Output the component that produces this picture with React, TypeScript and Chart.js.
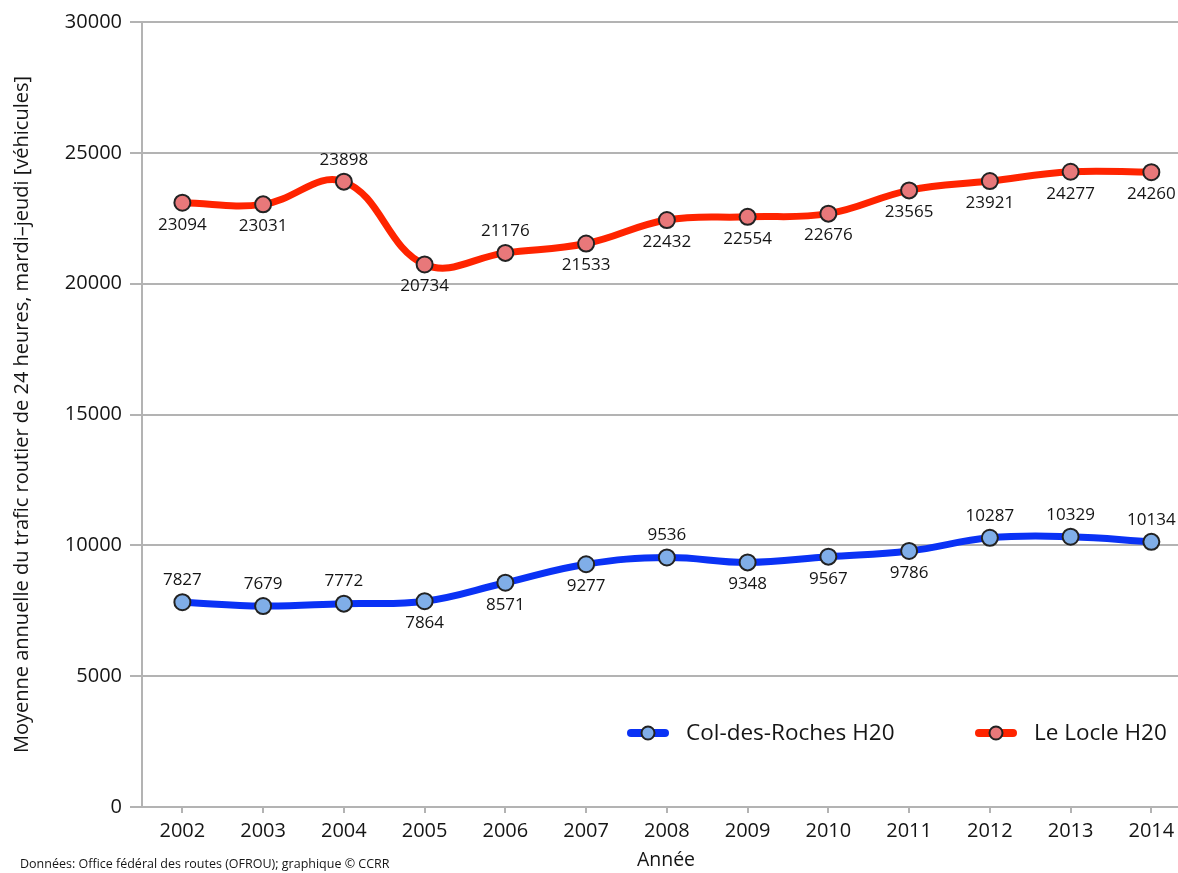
import { useEffect, useRef } from "react";
import { Chart, registerables } from "chart.js";

Chart.register(...registerables);

const years = [2002, 2003, 2004, 2005, 2006, 2007, 2008, 2009, 2010, 2011, 2012, 2013, 2014];
const leLocle = [23094, 23031, 23898, 20734, 21176, 21533, 22432, 22554, 22676, 23565, 23921, 24277, 24260];
const colDesRoches = [7827, 7679, 7772, 7864, 8571, 9277, 9536, 9348, 9567, 9786, 10287, 10329, 10134];
const leLocleLabelSide = ["below", "below", "above", "below", "above", "below", "below", "below", "below", "below", "below", "below", "below"];
const colLabelSide = ["above", "above", "above", "below", "below", "below", "above", "below", "below", "below", "above", "above", "above"];
const yTickValues = [0, 5000, 10000, 15000, 20000, 25000, 30000];

const seriesNames = ["Col-des-Roches H20", "Le Locle H20"];
const FONT = "'Open Sans', Lato, sans-serif";

const RED = "#ff2400";
const BLUE = "#0a32f5";
const RED_FILL = "#e8787a";
const BLUE_FILL = "#80aee8";
const GRID = "#b3b3b3";

const sides = [colLabelSide, leLocleLabelSide];

const labelPlugin = {
  id: "valueLabels",
  afterDatasetsDraw(chart: any) {
    const ctx = chart.ctx;
    ctx.save();
    ctx.font = `17px ${FONT}`;
    ctx.fillStyle = "#151515";
    ctx.textAlign = "center";
    ctx.textBaseline = "middle";
    chart.data.datasets.forEach((ds: any, di: number) => {
      const meta = chart.getDatasetMeta(di);
      meta.data.forEach((el: any, i: number) => {
        const v = ds.data[i].y;
        const off = sides[di][i] === "above" ? -22 : 22;
        ctx.fillText(String(v), el.x, el.y + off);
      });
    });
    ctx.restore();
  },
};

const decorPlugin = {
  id: "decor",
  afterDraw(chart: any) {
    const ctx = chart.ctx;
    const a = chart.chartArea;
    ctx.save();
    ctx.fillStyle = "#151515";
    ctx.font = `20px ${FONT}`;
    ctx.textAlign = "center";
    ctx.textBaseline = "middle";
    ctx.translate(22, (a.top + a.bottom) / 2);
    ctx.rotate(-Math.PI / 2);
    ctx.fillText("Moyenne annuelle du trafic routier de 24 heures, mardi–jeudi [véhicules]", 0, 0);
    ctx.restore();

    ctx.save();
    ctx.fillStyle = "#151515";
    ctx.font = `19.5px ${FONT}`;
    ctx.textAlign = "center";
    ctx.textBaseline = "middle";
    ctx.fillText("Année", (a.left + a.right) / 2 + 6, 860);
    ctx.font = `12.5px ${FONT}`;
    ctx.textAlign = "left";
    ctx.fillText("Données: Office fédéral des routes (OFROU); graphique © CCRR", 20, 864);

    const ly = a.bottom - 74;
    const items = [
      { x: 627, color: BLUE, fill: BLUE_FILL, name: seriesNames[0] },
      { x: 975, color: RED, fill: RED_FILL, name: seriesNames[1] },
    ];
    items.forEach((it) => {
      ctx.strokeStyle = it.color;
      ctx.lineWidth = 8;
      ctx.lineCap = "round";
      ctx.beginPath();
      ctx.moveTo(it.x + 4, ly);
      ctx.lineTo(it.x + 38, ly);
      ctx.stroke();
      ctx.beginPath();
      ctx.arc(it.x + 21, ly, 6.5, 0, Math.PI * 2);
      ctx.fillStyle = it.fill;
      ctx.fill();
      ctx.lineWidth = 2;
      ctx.strokeStyle = "#222";
      ctx.stroke();
      ctx.fillStyle = "#151515";
      ctx.font = `22.5px ${FONT}`;
      ctx.textAlign = "left";
      ctx.textBaseline = "middle";
      ctx.fillText(it.name, it.x + 59, ly + 1);
    });
    ctx.restore();
  },
};

export default function App() {
  const ref = useRef<HTMLCanvasElement>(null);
  useEffect(() => {
    if (!ref.current) return;
    const chart = new Chart(ref.current, {
      type: "line",
      data: {
        datasets: [
          {
            label: seriesNames[0],
            data: years.map((x, i) => ({ x, y: colDesRoches[i] })),
            borderColor: BLUE,
            borderWidth: 7,
            tension: 0.4,
            pointRadius: 8,
            pointBackgroundColor: BLUE_FILL,
            pointBorderColor: "#222",
            pointBorderWidth: 2,
          },
          {
            label: seriesNames[1],
            data: years.map((x, i) => ({ x, y: leLocle[i] })),
            borderColor: RED,
            borderWidth: 7,
            tension: 0.4,
            pointRadius: 8,
            pointBackgroundColor: RED_FILL,
            pointBorderColor: "#222",
            pointBorderWidth: 2,
          },
        ],
      },
      options: {
        animation: false,
        responsive: true,
        maintainAspectRatio: false,
        layout: { autoPadding: false, padding: { top: 22, left: 0, right: 0, bottom: 0 } },
        plugins: { legend: { display: false }, tooltip: { enabled: false } },
        scales: {
          x: {
            type: "linear",
            min: 2001.5,
            max: 2014.33,
            afterBuildTicks: (axis: any) => {
              axis.ticks = years.map((v) => ({ value: v }));
            },
            afterFit: (axis: any) => {
              axis.height = 66;
              axis.paddingLeft = 0;
              axis.paddingRight = 0;
            },
            grid: { drawOnChartArea: false, color: GRID, lineWidth: 2, tickLength: 6 },
            border: { color: GRID, width: 2 },
            ticks: {
              font: { family: FONT, size: 20 },
              color: "#151515",
              padding: 6,
              callback: (v: any) => String(v),
            },
          },
          y: {
            min: 0,
            max: 30000,
            afterBuildTicks: (axis: any) => {
              axis.ticks = yTickValues.map((v) => ({ value: v }));
            },
            afterFit: (axis: any) => {
              axis.width = 142;
            },
            grid: { color: GRID, lineWidth: 2, tickLength: 12 },
            border: { color: GRID, width: 2 },
            ticks: {
              font: { family: FONT, size: 20 },
              color: "#151515",
              padding: 8,
              callback: (v: any) => String(v),
            },
          },
        },
      },
      plugins: [labelPlugin, decorPlugin],
    });
    return () => chart.destroy();
  }, []);
  return (
    <div style={{ position: "absolute", left: 0, top: 0, width: 1178, height: 873, background: "#fff" }}>
      <canvas ref={ref} />
    </div>
  );
}
